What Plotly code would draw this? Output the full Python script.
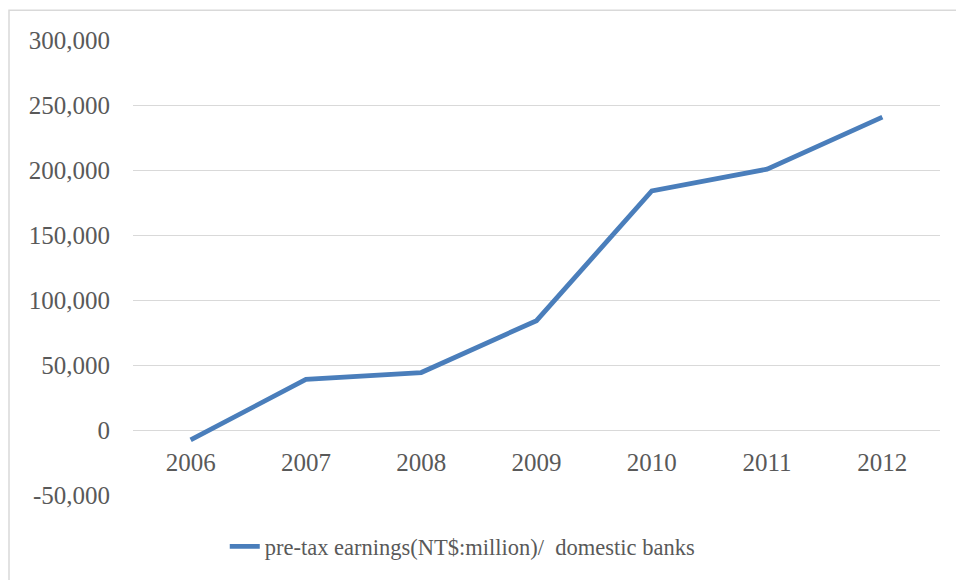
import plotly.graph_objects as go

# Domestic banks, pre-tax earnings (NT$ million)
years = ["2006", "2007", "2008", "2009", "2010", "2011", "2012"]
earnings = [-7600, 38900, 44200, 84100, 183900, 200600, 240700]
y_ticks = [-50000, 0, 50000, 100000, 150000, 200000, 250000, 300000]
y_tick_labels = [f"{v:,}" for v in y_ticks]
series_name = "pre-tax earnings(NT$:million)/  domestic banks"

W, H = 956, 580
L, R, T, B = 133, 16, 40, 83
plot_h = H - T - B
zero_pos = (0 - y_ticks[0]) / (y_ticks[-1] - y_ticks[0])

FONT = "Liberation Serif"
TXT = "#595959"
GRID = "#d9d9d9"
TICK_SIZE = 25

fig = go.Figure()
fig.add_trace(go.Scatter(
    x=years, y=earnings, mode="lines", name=series_name,
    line=dict(color="#4a7ebb", width=4.8),
))

fig.update_layout(
    width=W, height=H,
    margin=dict(l=L, r=R, t=T, b=B),
    paper_bgcolor="white", plot_bgcolor="white",
    font=dict(family=FONT, size=TICK_SIZE, color=TXT),
    showlegend=True,
    legend=dict(orientation="h", x=0.408, xanchor="center",
                y=-52 / plot_h, yanchor="middle",
                font=dict(family=FONT, size=22.5, color=TXT)),
    xaxis=dict(type="category", range=[-0.5, 6.5], showgrid=False,
               showline=False, ticks="", anchor="free", position=zero_pos,
               ticklabelstandoff=15,
               tickfont=dict(family=FONT, size=TICK_SIZE, color=TXT)),
    yaxis=dict(range=[y_ticks[0], y_ticks[-1]], tickvals=y_ticks,
               ticktext=y_tick_labels,
               showgrid=True, gridcolor=GRID, gridwidth=1.4,
               zeroline=True, zerolinecolor=GRID, zerolinewidth=1.4,
               showline=False, ticks="", ticklabelstandoff=22,
               tickfont=dict(family=FONT, size=TICK_SIZE, color=TXT)),
)

# outer chart-area border
fig.add_shape(type="rect", xref="paper", yref="paper",
              x0=(9 - L) / (W - L - R), x1=(W + 20 - L) / (W - L - R),
              y0=(H - B - (H + 20)) / plot_h, y1=(H - B - 10) / plot_h,
              line=dict(color=GRID, width=1.5), fillcolor="rgba(0,0,0,0)",
              layer="below")

fig.write_html("out.html")
